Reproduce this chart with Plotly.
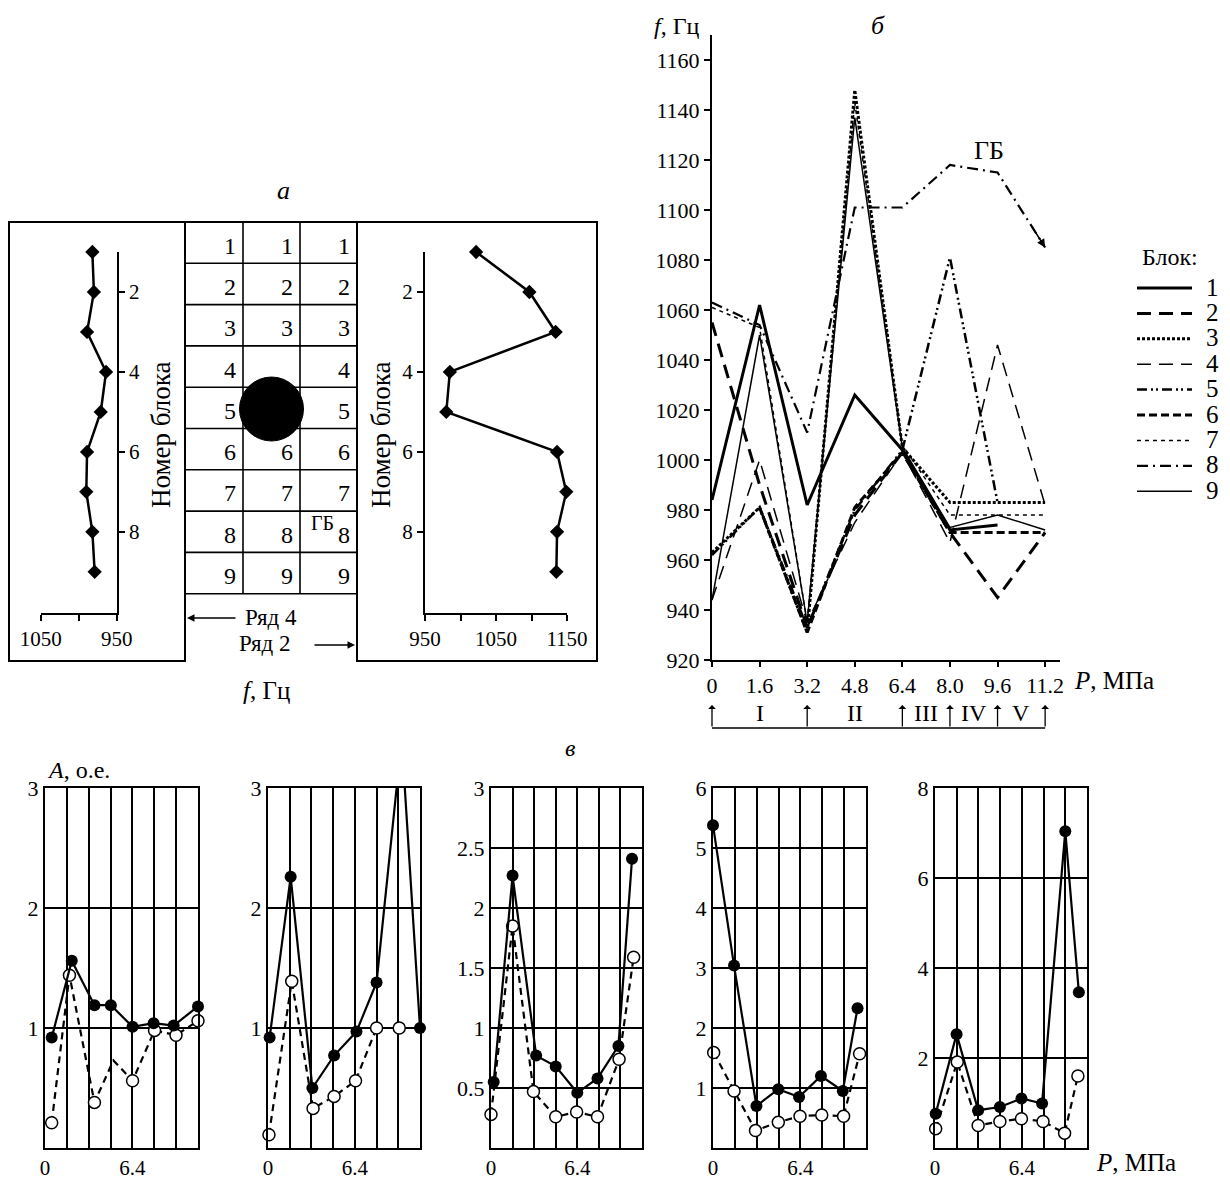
import plotly.graph_objects as go

W, H = 1230, 1180
FONT = "Liberation Serif"

# ---------------- Panel "а" data ----------------
blocks = [1, 2, 3, 4, 5, 6, 7, 8, 9]
row4_f = [982, 980, 989, 964, 971, 989, 990, 982, 979]      # Ряд 4 (left chart)
row2_f = [1022, 1097, 1134, 985, 980, 1136, 1149, 1136, 1135]  # Ряд 2 (right chart)
row4_xticks = [1050, 1000, 950]
row4_xticktext = ["1050", "", "950"]
row2_xticks = [950, 1000, 1050, 1100, 1150]
row2_xticktext = ["950", "", "1050", "", "1150"]
block_ticks = [2, 4, 6, 8]
grid_col1 = ["1", "2", "3", "4", "5", "6", "7", "8", "9"]
grid_col2 = ["1", "2", "3", "", "", "6", "7", "8", "9"]
grid_col3 = ["1", "2", "3", "4", "5", "6", "7", "8", "9"]

# ---------------- Panel "б" data ----------------
pressure = [0, 1.6, 3.2, 4.8, 6.4, 8.0, 9.6, 11.2]
pressure_labels = ["0", "1.6", "3.2", "4.8", "6.4", "8.0", "9.6", "11.2"]
f_ticks = [920, 940, 960, 980, 1000, 1020, 1040, 1060, 1080, 1100, 1120, 1140, 1160]
f_block1 = [984, 1062, 982, 1026, 1004, 972, 974, None]
f_block2 = [1055, 990, 933, 978, 1003, 971, 945, 971]
f_block3 = [963, 981, 931, 1148, 1005, 983, 983, 983]
f_block4 = [944, 1000, 935, 975, 1003, 967, 1046, 982]
f_block5 = [962, 981, 933, 980, 1004, 1081, 983, None]
f_block6 = [None, 981, 931, 981, 1003, 971, 971, 971]
f_block7 = [1061, 1053, 935, 1143, 1006, 978, 978, 978]
f_block8 = [1063, 1054, 1011, 1101, 1101, 1118, 1115, 1085]
f_block9 = [944, 1050, 935, 1137, 1005, 973, 978, 972]
block_names = ["1", "2", "3", "4", "5", "6", "7", "8", "9"]
stage_bounds = [0, 3.2, 6.4, 8.0, 9.6, 11.2]
stage_labels = ["I", "II", "III", "IV", "V"]

# ---------------- Panel "в" data ----------------
grid_P = [0, 1.6, 3.2, 4.8, 6.4, 8.0, 9.6, 11.2]
p1_filled_P = [0.49, 1.96, 3.62, 4.82, 6.41, 7.95, 9.42, 11.2]
p1_filled_A = [0.92, 1.56, 1.19, 1.19, 1.01, 1.04, 1.02, 1.18]
p1_open_P = [0.49, 1.79, 3.62, 5.01, 6.41, 8.02, 9.59, 11.2]
p1_open_A = [0.21, 1.44, 0.38, 0.73, 0.56, 0.98, 0.94, 1.06]
p2_filled_P = [0.12, 1.67, 3.27, 4.87, 6.52, 8.0, 9.85, 11.2]
p2_filled_A = [0.92, 2.26, 0.50, 0.77, 0.97, 1.38, 3.41, 1.0]
p2_open_P = [0.07, 1.75, 3.32, 4.87, 6.45, 8.0, 9.67]
p2_open_A = [0.11, 1.39, 0.33, 0.43, 0.56, 1.0, 1.0]
p3_filled_P = [0.2, 1.6, 3.35, 4.8, 6.4, 7.9, 9.45, 10.46]
p3_filled_A = [0.55, 2.27, 0.77, 0.68, 0.46, 0.58, 0.85, 2.41]
p3_open_P = [0.0, 1.6, 3.15, 4.8, 6.35, 7.9, 9.5, 10.58]
p3_open_A = [0.28, 1.85, 0.47, 0.26, 0.30, 0.26, 0.74, 1.59]
p4_filled_P = [0.0, 1.54, 3.18, 4.78, 6.3, 7.9, 9.5, 10.58]
p4_filled_A = [5.38, 3.04, 0.70, 0.98, 0.85, 1.20, 0.95, 2.33]
p4_open_P = [0.05, 1.54, 3.11, 4.78, 6.37, 7.96, 9.56, 10.73]
p4_open_A = [1.59, 0.95, 0.29, 0.43, 0.53, 0.55, 0.53, 1.57]
p5_filled_P = [0.05, 1.59, 3.18, 4.78, 6.37, 7.89, 9.6, 10.6]
p5_filled_A = [0.76, 2.53, 0.84, 0.91, 1.10, 0.99, 7.04, 3.46]
p5_open_P = [0.05, 1.64, 3.18, 4.78, 6.37, 7.96, 9.55, 10.53]
p5_open_A = [0.43, 1.91, 0.50, 0.59, 0.65, 0.59, 0.33, 1.60]
p1_open_hidden = [3]   # index of a vertex drawn without a marker
panel_yticks = [[1, 2, 3], [1, 2, 3], [0.5, 1, 1.5, 2, 2.5, 3], [1, 2, 3, 4, 5, 6], [2, 4, 6, 8]]
panel_ymax = [3, 3, 3, 6, 8]


def fx(px):
    return px / W


def fy(py):
    return 1 - py / H


def tfont(size):
    return dict(family=FONT, size=size, color="black")


def label(text, x, y, size, xanchor="center", yanchor="middle", **kw):
    d = dict(text=text, xref="paper", yref="paper", x=fx(x), y=fy(y), showarrow=False,
             xanchor=xanchor, yanchor=yanchor, font=tfont(size))
    d.update(kw)
    return d


fig = go.Figure()
annotations = []
shapes = []

# ---------------- Panel а ----------------
a_ydom = [fy(613), fy(252)]
fig.add_trace(go.Scatter(x=row4_f, y=blocks, mode="lines+markers", xaxis="x", yaxis="y",
                         line=dict(color="black", width=2.5),
                         marker=dict(symbol="diamond", size=11, color="black"),
                         cliponaxis=False, showlegend=False))
fig.add_trace(go.Scatter(x=row2_f, y=blocks, mode="lines+markers", xaxis="x2", yaxis="y2",
                         line=dict(color="black", width=2.5),
                         marker=dict(symbol="diamond", size=11, color="black"),
                         cliponaxis=False, showlegend=False))


def axis_common(size, ticklen=6):
    return dict(showline=True, linecolor="black", linewidth=2, showgrid=False, zeroline=False,
                ticks="outside", ticklen=ticklen, tickwidth=1.5, tickcolor="black",
                tickfont=tfont(size), automargin=False)


fig.update_layout(
    xaxis=dict(domain=[fx(40.7), fx(116.7)], range=[1050, 950], anchor="y",
               tickvals=row4_xticks, ticktext=row4_xticktext, **axis_common(21)),
    yaxis=dict(domain=a_ydom, range=[10.03, 1], anchor="x", side="right",
               tickvals=block_ticks, **axis_common(21)),
    xaxis2=dict(domain=[fx(425), fx(567)], range=[950, 1150], anchor="y2",
                tickvals=row2_xticks, ticktext=row2_xticktext, **axis_common(21)),
    yaxis2=dict(domain=a_ydom, range=[10.03, 1], anchor="x2", side="left",
                tickvals=block_ticks, **axis_common(21)),
)

line_k = dict(color="black", width=2)
# outer boxes
shapes.append(dict(type="rect", xref="paper", yref="paper", x0=fx(9), x1=fx(185), y0=fy(661), y1=fy(222), line=line_k))
shapes.append(dict(type="rect", xref="paper", yref="paper", x0=fx(357), x1=fx(597), y0=fy(661), y1=fy(222), line=line_k))
shapes.append(dict(type="line", xref="paper", yref="paper", x0=fx(185), x1=fx(357), y0=fy(222), y1=fy(222), line=line_k))
# grid of blocks
row_top, row_h = 222, 41.3
col_edges = [185, 243, 300, 357]
for i in range(len(blocks) + 1):
    yy = row_top + i * row_h
    shapes.append(dict(type="line", xref="paper", yref="paper", x0=fx(col_edges[0]), x1=fx(col_edges[-1]),
                       y0=fy(yy), y1=fy(yy), line=dict(color="black", width=1.6)))
for cx in col_edges[1:-1]:
    shapes.append(dict(type="line", xref="paper", yref="paper", x0=fx(cx), x1=fx(cx),
                       y0=fy(row_top), y1=fy(row_top + len(blocks) * row_h), line=dict(color="black", width=1.6)))
for ci, col in enumerate([grid_col1, grid_col2, grid_col3]):
    for ri, t in enumerate(col):
        if not t:
            continue
        annotations.append(label(t, col_edges[ci + 1] - 5, row_top + (ri + 0.5) * row_h + 3, 24, xanchor="right"))
annotations.append(label("ГБ", 322, row_top + 7.3 * row_h, 20))
# hole
shapes.append(dict(type="circle", xref="paper", yref="paper", x0=fx(239.5), x1=fx(303.5),
                   y0=fy(441), y1=fy(377), fillcolor="black", line=dict(color="black", width=1)))

for xx in (161, 381):
    annotations.append(label("Номер блока", xx, 435, 27, textangle=-90))
annotations.append(label("<i>а</i>", 283, 190, 26))
annotations.append(label("<i>f</i>, Гц", 266, 690, 25))
annotations.append(label("Ряд 4", 271, 617, 23))
annotations.append(label("Ряд 2", 264, 644, 23))
annotations.append(dict(text="", xref="paper", yref="paper", x=fx(187), y=fy(618), ax=50, ay=0,
                        showarrow=True, arrowhead=2, arrowsize=1, arrowwidth=1.5, arrowcolor="black"))
annotations.append(dict(text="", xref="paper", yref="paper", x=fx(355), y=fy(645), ax=-42, ay=0,
                        showarrow=True, arrowhead=2, arrowsize=1, arrowwidth=1.5, arrowcolor="black"))

# ---------------- Panel б ----------------
series_b = [f_block1, f_block2, f_block3, f_block4, f_block5, f_block6, f_block7, f_block8, f_block9]
styles_b = [
    dict(width=3, dash="solid"),
    dict(width=3, dash="14px,8px"),
    dict(width=3, dash="3px,2px"),
    dict(width=1.5, dash="14px,8px"),
    dict(width=2.5, dash="10px,4px,2px,3px,2px,4px"),
    dict(width=3, dash="8px,4px"),
    dict(width=1.5, dash="4px,4px"),
    dict(width=2.2, dash="11px,5px,2px,5px"),
    dict(width=1.5, dash="solid"),
]
for name, ser, st in zip(block_names, series_b, styles_b):
    fig.add_trace(go.Scatter(x=pressure, y=ser, mode="lines", xaxis="x3", yaxis="y3", name=name,
                             line=dict(color="black", **st), showlegend=False, connectgaps=False))

fig.update_layout(
    xaxis3=dict(domain=[fx(712), fx(1060)], range=[0, 11.7], anchor="y3",
                tickvals=pressure, ticktext=pressure_labels, **axis_common(22, 5)),
    yaxis3=dict(domain=[fy(660), fy(35)], range=[920, 1170], anchor="x3",
                tickvals=f_ticks, **axis_common(22, 6)),
)

annotations.append(label("<i>f</i>, Гц", 702, 26, 24, xanchor="right"))
annotations.append(label("<i>б</i>", 878, 26, 26))
annotations.append(label("<i>P</i>, МПа", 1072, 680, 25, xanchor="left"))
annotations.append(dict(text="ГБ", xref="x3", yref="y3", x=9.3, y=1124, showarrow=False,
                        xanchor="center", yanchor="middle", font=tfont(26)))
# arrowhead at the end of the ГБ line
frac = 0.3
ax_tail = pressure[-1] - frac * (pressure[-1] - pressure[-2])
ay_tail = f_block8[-1] + frac * (f_block8[-2] - f_block8[-1])
annotations.append(dict(text="", xref="x3", yref="y3", x=pressure[-1], y=f_block8[-1],
                        axref="x3", ayref="y3", ax=ax_tail, ay=ay_tail, showarrow=True,
                        arrowhead=2, arrowsize=1.1, arrowwidth=1.5, arrowcolor="black"))
# stage scale under panel б
shapes.append(dict(type="line", xref="x3", yref="paper", x0=stage_bounds[0], x1=stage_bounds[-1],
                   y0=fy(728), y1=fy(728), line=dict(color="black", width=1.5)))
for b in stage_bounds:
    annotations.append(dict(text="", xref="x3", yref="paper", x=b, y=fy(705), ax=0, ay=23,
                            showarrow=True, arrowhead=1, arrowsize=1, arrowwidth=1.3, arrowcolor="black"))
for lab, b0, b1 in zip(stage_labels, stage_bounds[:-1], stage_bounds[1:]):
    annotations.append(dict(text=lab, xref="x3", yref="paper", x=(b0 + b1) / 2, y=fy(713), showarrow=False,
                            xanchor="center", yanchor="middle", font=tfont(24)))

# legend "Блок:" drawn beside panel б from the same line styles
leg_x0, leg_x1, leg_txt_x = 1137, 1192, 1212
leg_top, leg_step = 288, 25.4
annotations.append(label("Блок:", 1140, 257, 24, xanchor="left"))
for i, (name, st) in enumerate(zip(block_names, styles_b)):
    yy = leg_top + i * leg_step
    shapes.append(dict(type="line", xref="paper", yref="paper", x0=fx(leg_x0), x1=fx(leg_x1),
                       y0=fy(yy), y1=fy(yy), line=dict(color="black", width=st["width"], dash=st["dash"])))
    annotations.append(label(name, leg_txt_x, yy - 1, 25))

# ---------------- Panel в ----------------
panels = [
    (p1_filled_P, p1_filled_A, p1_open_P, p1_open_A),
    (p2_filled_P, p2_filled_A, p2_open_P, p2_open_A),
    (p3_filled_P, p3_filled_A, p3_open_P, p3_open_A),
    (p4_filled_P, p4_filled_A, p4_open_P, p4_open_A),
    (p5_filled_P, p5_filled_A, p5_open_P, p5_open_A),
]
panel_x_px = [(45, 198), (268, 420), (491, 642), (713, 866), (935, 1087)]
grid_ticktext = ["0" if p == 0 else ("6.4" if abs(p - 6.4) < 1e-9 else "") for p in grid_P]
for k, ((fp, fa, op, oa), (x0p, x1p), yt, ymax) in enumerate(zip(panels, panel_x_px, panel_yticks, panel_ymax)):
    n = k + 4
    xa, ya = "x%d" % n, "y%d" % n
    op_open = [0 if (k == 0 and i in p1_open_hidden) else 1 for i in range(len(op))]
    op_fill = [1 if v <= ymax else 0 for v in fa]
    fig.add_trace(go.Scatter(x=op, y=oa, mode="lines+markers", xaxis=xa, yaxis=ya, showlegend=False,
                             line=dict(color="black", width=2.2, dash="7px,5px"),
                             marker=dict(symbol="circle", size=12, color="white", opacity=op_open,
                                         line=dict(color="black", width=1.5)),
                             cliponaxis=False))
    fig.add_trace(go.Scatter(x=fp, y=fa, mode="lines+markers", xaxis=xa, yaxis=ya, showlegend=False,
                             line=dict(color="black", width=2.2),
                             marker=dict(symbol="circle", size=12, color="black", opacity=op_fill),
                             cliponaxis=False))
    fig.layout["xaxis%d" % n] = dict(domain=[fx(x0p), fx(x1p)], range=[0, 11.2], anchor=ya,
                                     tickvals=grid_P, ticktext=grid_ticktext, ticks="",
                                     showgrid=True, gridcolor="black", gridwidth=1.6,
                                     showline=True, mirror=True, linecolor="black", linewidth=2,
                                     zeroline=False, tickfont=tfont(21), automargin=False)
    fig.layout["yaxis%d" % n] = dict(domain=[fy(1148), fy(788)], range=[0, ymax], anchor=xa,
                                     tickvals=yt, ticktext=["%g" % v for v in yt], ticks="",
                                     showgrid=True, gridcolor="black", gridwidth=1.6,
                                     showline=True, mirror=True, linecolor="black", linewidth=2,
                                     zeroline=False, tickfont=tfont(22), automargin=False)

annotations.append(label("<i>в</i>", 570, 748, 24))
annotations.append(label("<i>A</i>, о.е.", 45, 770, 24, xanchor="left"))
annotations.append(label("<i>P</i>, МПа", 1094, 1162, 25, xanchor="left"))

fig.update_layout(width=W, height=H, margin=dict(l=0, r=0, t=0, b=0, pad=0), autosize=False,
                  paper_bgcolor="white", plot_bgcolor="white", showlegend=False,
                  font=dict(family=FONT, color="black"),
                  annotations=annotations, shapes=shapes)

fig.write_html("out.html", config={"displayModeBar": False},
               post_script="document.body.style.margin='0px';")
